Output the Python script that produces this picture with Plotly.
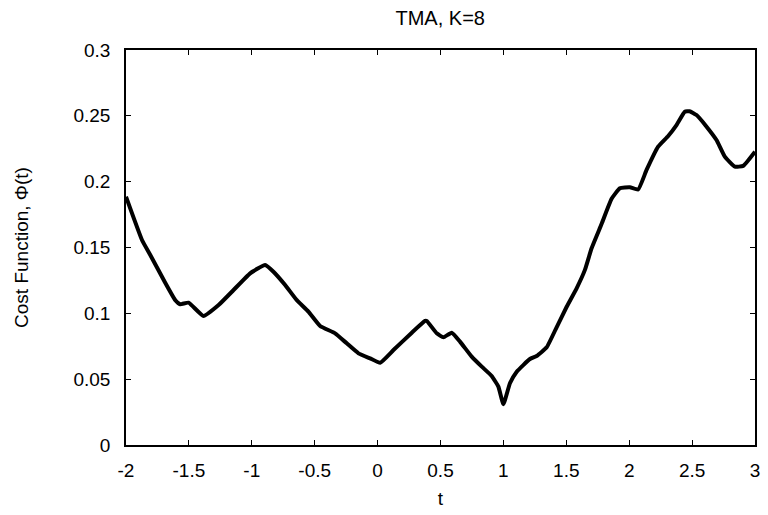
import plotly.graph_objects as go

t_vals = [-2.0, -1.873, -1.807, -1.70, -1.608, -1.569, -1.503, -1.384, -1.264, -1.145,
          -1.013, -0.894, -0.828, -0.735, -0.642, -0.550, -0.457, -0.338, -0.245, -0.152,
          -0.060, 0.020, 0.126, 0.272, 0.377, 0.391, 0.470, 0.523, 0.589, 0.655,
          0.748, 0.828, 0.907, 0.960, 1.0, 1.052, 1.106, 1.211, 1.264, 1.344,
          1.423, 1.503, 1.582, 1.648, 1.701, 1.781, 1.860, 1.926, 2.005, 2.071,
          2.138, 2.230, 2.310, 2.376, 2.442, 2.480, 2.535, 2.615, 2.694, 2.760,
          2.840, 2.906, 3.0]
phi_vals = [0.1886, 0.1557, 0.1443, 0.1253, 0.1100, 0.1069, 0.1081, 0.0980, 0.1063, 0.1177,
            0.1304, 0.1367, 0.1316, 0.1215, 0.1100, 0.1013, 0.0904, 0.0848, 0.0772, 0.0696,
            0.0658, 0.0625, 0.0721, 0.0853, 0.0942, 0.0942, 0.0848, 0.0818, 0.0853, 0.0785,
            0.0671, 0.0595, 0.0524, 0.0443, 0.0310, 0.0469, 0.0557, 0.0653, 0.0676, 0.0742,
            0.0894, 0.1050, 0.1190, 0.1330, 0.1494, 0.1680, 0.1870, 0.1950, 0.1957, 0.1940,
            0.2089, 0.2266, 0.2347, 0.2430, 0.2531, 0.2535, 0.2506, 0.2418, 0.2316, 0.2190,
            0.2114, 0.2120, 0.2228]

x_ticks = [-2, -1.5, -1, -0.5, 0, 0.5, 1, 1.5, 2, 2.5, 3]
x_labels = ["-2", "-1.5", "-1", "-0.5", "0", "0.5", "1", "1.5", "2", "2.5", "3"]
y_ticks = [0, 0.05, 0.1, 0.15, 0.2, 0.25, 0.3]
y_labels = ["0", "0.05", "0.1", "0.15", "0.2", "0.25", "0.3"]

fam = "Liberation Sans, Arial, sans-serif"
font = dict(family=fam, size=19, color="black")

fig = go.Figure()
fig.add_trace(go.Scatter(x=t_vals, y=phi_vals, mode="lines",
                         line=dict(color="black", width=4, shape="spline", smoothing=0.4),
                         showlegend=False))

fig.update_layout(
    width=768, height=515,
    margin=dict(l=126, r=13, t=50, b=70),
    paper_bgcolor="white", plot_bgcolor="white",
    font=font,
    title=dict(text="TMA, K=8", x=0.5732, xanchor="center", y=0.965, yanchor="middle",
               font=dict(family=fam, size=20, color="black")),
)
fig.update_xaxes(range=[-2, 3], tickvals=x_ticks, ticktext=x_labels,
                 ticks="inside", ticklen=5, tickwidth=1, tickcolor="black",
                 showline=True, linecolor="black", linewidth=1.5, mirror="ticks",
                 showgrid=False, zeroline=False, ticklabelstandoff=7, automargin=False,
                 title=dict(text="t", standoff=12, font=font))
fig.update_yaxes(range=[0, 0.3], tickvals=y_ticks, ticktext=y_labels,
                 ticks="inside", ticklen=5, tickwidth=1, tickcolor="black",
                 showline=True, linecolor="black", linewidth=1.5, mirror="ticks",
                 showgrid=False, zeroline=False, ticklabelstandoff=10, automargin=False,
                 title=dict(text="Cost Function, Φ(t)", standoff=40, font=font))

fig.write_html("out.html")
